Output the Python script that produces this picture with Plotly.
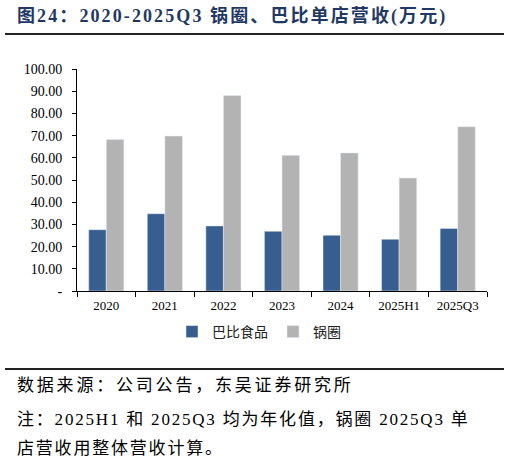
import plotly.graph_objects as go

categories = ["2020", "2021", "2022", "2023", "2024", "2025H1", "2025Q3"]
babi = [27.6, 34.8, 29.3, 26.9, 25.1, 23.3, 28.2]
guoquan = [68.2, 69.8, 88.1, 61.1, 62.2, 50.9, 74.0]
y_ticks = [0, 10, 20, 30, 40, 50, 60, 70, 80, 90, 100]
y_ticktext = ["-"] + [f"{v:.2f}" for v in y_ticks[1:]]

W, H = 510, 464
L, R, T, B = 77, 23, 69, 173
PW, PH = W - L - R, H - T - B

def px(x):
    return (x - L) / PW

def py(y):
    return (H - B - y) / PH

serif = "Liberation Serif, Times New Roman, Noto Sans CJK SC"

fig = go.Figure()
fig.add_trace(go.Bar(x=categories, y=babi, name="巴比食品", marker_color="#375e8f"))
fig.add_trace(go.Bar(x=categories, y=guoquan, name="锅圈", marker_color="#b3b3b3"))

fig.update_layout(
    width=W, height=H,
    margin=dict(l=L, r=R, t=T, b=B),
    paper_bgcolor="white", plot_bgcolor="white",
    barmode="group", bargap=0.4, bargroupgap=0,
    font=dict(family=serif, size=13, color="black"),
    showlegend=True,
    legend=dict(orientation="h", x=px(172), y=py(332), xanchor="left", yanchor="middle",
                font=dict(size=14, family="Noto Sans CJK SC", color="#222222"), itemwidth=30,
                traceorder="normal"),
    xaxis=dict(type="category", range=[-0.5, 6.5], showline=True, linecolor="black", linewidth=1,
               ticks="outside", tickson="boundaries", ticklen=5, tickcolor="black",
               showgrid=False, tickfont=dict(size=13, family=serif), ticklabelstandoff=2),
    yaxis=dict(range=[0, 100], tickvals=y_ticks, ticktext=y_ticktext, showline=True,
               linecolor="black", linewidth=1, ticks="outside", ticklen=4, tickcolor="black",
               showgrid=False, zeroline=False, tickfont=dict(size=14, family=serif),
               ticklabelstandoff=7),
)

# title
fig.add_annotation(text="<b>图24：2020-2025Q3 锅圈、巴比单店营收(万元)</b>", xref="paper", yref="paper",
                   x=px(15), y=py(16), xanchor="left", yanchor="middle", showarrow=False,
                   width=485, align="left",
                   font=dict(size=18, color="#1f3864", family="Liberation Serif, Noto Sans CJK SC"))
# lines
fig.add_shape(type="line", xref="paper", yref="paper", x0=px(5), x1=px(504), y0=py(34), y1=py(34),
              line=dict(color="#222222", width=2))
fig.add_shape(type="line", xref="paper", yref="paper", x0=px(5), x1=px(504), y0=py(369), y1=py(369),
              line=dict(color="#222222", width=2))

footer = [
    ("数据来源：公司公告，东吴证券研究所", 385),
    ("注：2025H1 和 2025Q3 均为年化值，锅圈 2025Q3 单", 419),
    ("店营收用整体营收计算。", 448),
]
for txt, yy in footer:
    fig.add_annotation(text=txt, xref="paper", yref="paper", x=px(15), y=py(yy),
                       xanchor="left", yanchor="middle", showarrow=False,
                       width=485, align="left",
                       font=dict(size=17, color="black", family="Liberation Serif, Noto Sans CJK SC"))

post = """
var a = document.querySelectorAll('.annotation-text');
a.forEach(function(e, i){ e.style.letterSpacing = (i === 0 ? '2.1px' : (i === 1 ? '2.8px' : '1.8px')); });
"""
fig.write_html("out.html", post_script=post)
